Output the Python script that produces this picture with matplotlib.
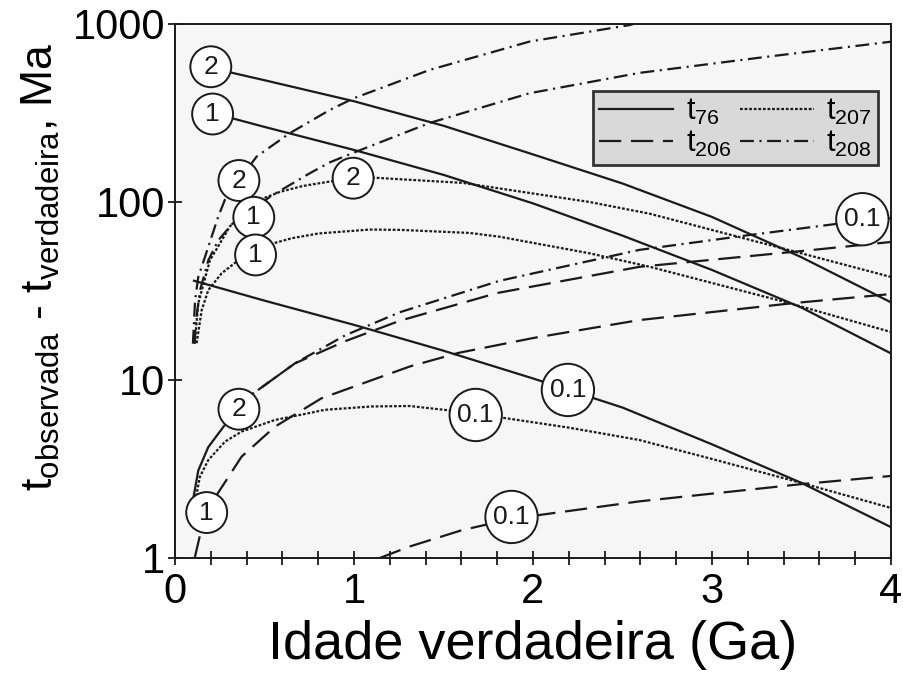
import matplotlib
matplotlib.use("Agg")
from matplotlib import pyplot as plt
from matplotlib.lines import Line2D
from matplotlib import ticker
import numpy as np

plt.rcParams['font.family'] = ['Liberation Sans', 'DejaVu Sans']
plt.rcParams['mathtext.fontset'] = 'custom'
plt.rcParams['mathtext.rm'] = 'Liberation Sans'
plt.rcParams['lines.scale_dashes'] = False

# t76 (solid), parametro 2, 1 e 0.1
t76_x_2 = [0.20, 0.30, 0.50, 1.00, 1.50, 2.00, 2.50, 3.00, 3.50, 4.00]
t76_y_2 = [565, 537, 483, 368, 268, 185, 127, 82.4, 48.9, 27.3]
t76_x_1 = [0.21, 0.31, 0.50, 1.00, 1.50, 2.00, 2.50, 3.00, 3.50, 4.00]
t76_y_1 = [315, 297, 264, 196, 142, 98.2, 64.7, 41.5, 25.5, 14.1]
t76_x_01 = [0.106, 0.50, 1.00, 1.50, 2.00, 2.50, 3.00, 3.50, 4.00]
t76_y_01 = [36.1, 27.9, 20.4, 14.6, 10.2, 7.0, 4.35, 2.64, 1.49]

# t207 (dotted)
t207_x_2 = [0.11, 0.13, 0.195, 0.307, 0.474, 0.587, 0.714, 0.88, 1.0, 1.105, 1.607, 2.315, 2.65, 3.43, 4.0]
t207_y_2 = [16, 27, 47, 73, 103, 114, 123, 131, 135, 137, 128, 100, 86, 53.7, 37.9]
t207_x_1 = [0.121, 0.149, 0.186, 0.26, 0.353, 0.45, 0.548, 0.65, 0.8, 1.088, 1.255, 1.646, 1.813, 2.315, 2.65, 3.41, 4.0]
t207_y_1 = [16.1, 24.7, 32, 39.7, 47, 53, 58.5, 62.5, 66.5, 70, 69.7, 67, 63.8, 51.5, 43.3, 27.4, 18.6]
t207_x_01 = [0.11, 0.121, 0.139, 0.186, 0.279, 0.372, 0.558, 0.744, 0.837, 1.1, 1.311, 1.56, 1.8, 2.2, 2.594, 3.0, 3.5, 4.0]
t207_y_01 = [2.1, 2.3, 2.86, 3.55, 4.5, 5.13, 5.96, 6.5, 6.8, 7.1, 7.14, 6.7, 6.2, 5.4, 4.6, 3.6, 2.64, 1.91]

# t206 (dashed)
t206_x_2 = [0.10, 0.13, 0.186, 0.279, 0.357, 0.437, 0.67, 0.95, 1.255, 1.8, 2.594, 3.5, 4.0]
t206_y_2 = [2.1, 3.1, 4.2, 5.6, 6.85, 8.4, 12.4, 16.5, 21.5, 30.8, 43.2, 53, 59.6]
t206_x_1 = [0.11, 0.14, 0.177, 0.233, 0.372, 0.558, 0.818, 1.311, 1.584, 2.0, 2.594, 3.45, 4.0]
t206_y_1 = [1.0, 1.35, 1.8, 2.26, 3.71, 5.46, 7.89, 11.9, 14.2, 17.2, 21.7, 27, 30.4]
t206_x_01 = [1.144, 1.311, 1.6, 1.88, 2.594, 3.5, 4.0]
t206_y_01 = [1.0, 1.16, 1.43, 1.66, 2.08, 2.6, 2.89]

# t208 (dash-dot)
t208_x_2 = [0.10, 0.112, 0.13, 0.167, 0.205, 0.242, 0.279, 0.357, 0.456, 0.64, 0.865, 1.0, 1.423, 1.98, 2.54, 2.7]
t208_y_2 = [16, 28, 38, 49, 64, 83, 103, 132, 180, 243, 329, 383, 552, 796, 986, 1100]
t208_x_1 = [0.11, 0.115, 0.14, 0.186, 0.242, 0.331, 0.44, 0.53, 0.753, 0.865, 1.014, 1.423, 1.98, 2.594, 3.3, 4.0]
t208_y_1 = [16, 20.8, 32, 47, 61, 77.6, 90, 107, 145, 167, 192, 278, 408, 531, 653, 795]
t208_x_01 = [0.357, 0.437, 0.67, 0.95, 1.255, 1.81, 2.594, 3.2, 3.77, 4.0]
t208_y_01 = [6.85, 8.4, 12.4, 17.8, 24.0, 36, 53.8, 65, 77, 81]

# rotulos circulados
circ_x = [0.20, 0.21, 0.357, 0.995, 0.44, 0.45, 0.357, 0.177, 2.195, 1.68, 1.88, 3.84]
circ_y = [575, 312, 132, 136, 82, 50.4, 6.85, 1.8, 8.79, 6.36, 1.70, 80]
circ_txt = ["2", "1", "2", "2", "1", "1", "2", "1", "0.1", "0.1", "0.1", "0.1"]

ls_76 = '-'
ls_207 = (0, (2.0, 1.3))
ls_206 = (0, (16, 7))
ls_208 = (0, (10, 4, 1.5, 4))
lw = 1.6
c = '#1a1a1a'

fig = plt.figure(figsize=(9.04, 6.77), dpi=100)
ax = fig.add_axes([0.1936, 0.1758, 0.7920, 0.7888])
ax.set_facecolor('#f6f6f6')

ax.plot(t76_x_2, t76_y_2, ls=ls_76, color=c, lw=lw)
ax.plot(t76_x_1, t76_y_1, ls=ls_76, color=c, lw=lw)
ax.plot(t76_x_01, t76_y_01, ls=ls_76, color=c, lw=lw)

ax.plot(t207_x_2, t207_y_2, ls=ls_207, color=c, lw=lw)
ax.plot(t207_x_1, t207_y_1, ls=ls_207, color=c, lw=lw)
ax.plot(t207_x_01, t207_y_01, ls=ls_207, color=c, lw=lw)

# trecho inicial de t206 (2) aparece continuo
ax.plot(t206_x_2[:5], t206_y_2[:5], ls='-', color=c, lw=lw)
ax.plot(t206_x_2[4:], t206_y_2[4:], ls=ls_206, color=c, lw=lw)
ax.plot(t206_x_1, t206_y_1, ls=ls_206, color=c, lw=lw)
ax.plot(t206_x_01, t206_y_01, ls=ls_206, color=c, lw=lw)

ax.plot(t208_x_2, t208_y_2, ls=ls_208, color=c, lw=lw)
ax.plot(t208_x_1, t208_y_1, ls=ls_208, color=c, lw=lw)
ax.plot(t208_x_01, t208_y_01, ls=ls_208, color=c, lw=lw)

for x, y, s in zip(circ_x, circ_y, circ_txt):
    pad = 0.3 if len(s) > 1 else 0.32
    ax.text(x, y, s, ha='center', va='center', fontsize=19, color=c, zorder=5,
            bbox=dict(boxstyle='circle,pad=%.2f' % pad, fc='white', ec=c, lw=1.4))

ax.set_yscale('log')
ax.set_xlim(0, 4)
ax.set_ylim(1, 1000)
ax.yaxis.set_major_locator(ticker.FixedLocator([1, 10, 100, 1000]))
ax.yaxis.set_major_formatter(ticker.FixedFormatter(["1", "10", "100", "1000"]))
ax.yaxis.set_minor_locator(ticker.NullLocator())
ax.xaxis.set_major_locator(ticker.MultipleLocator(1))
ax.xaxis.set_minor_locator(ticker.MultipleLocator(0.2))
ax.tick_params(axis='both', which='both', direction='inout', width=1.3, color=c)
ax.tick_params(axis='both', which='major', length=10, labelsize=30)
ax.tick_params(axis='x', which='minor', length=10)
ax.tick_params(axis='x', which='major', pad=5)
ax.tick_params(axis='y', which='major', pad=2)
for sp in ax.spines.values():
    sp.set_linewidth(1.4)
    sp.set_color(c)

ax.set_xlabel("Idade verdadeira (Ga)", fontsize=39, labelpad=6)
ax.set_ylabel(r"$\mathregular{t_{observada}}$ - $\mathregular{t_{verdadeira}}$, Ma", fontsize=32)
ax.yaxis.set_label_coords(-0.158, 0.545)

handles = [Line2D([], [], ls=ls_76, color=c, lw=lw),
           Line2D([], [], ls=ls_206, color=c, lw=lw),
           Line2D([], [], ls=ls_207, color=c, lw=lw),
           Line2D([], [], ls=ls_208, color=c, lw=lw)]
labels = [r"$\mathregular{t_{76}}$", r"$\mathregular{t_{206}}$",
          r"$\mathregular{t_{207}}$", r"$\mathregular{t_{208}}$"]
leg = ax.legend(handles, labels, ncol=2, loc='upper right', bbox_to_anchor=(0.9818, 0.8745),
                borderaxespad=0, fontsize=22, frameon=True, fancybox=False,
                facecolor='#d9d9d9', edgecolor='#333333', framealpha=1,
                handlelength=2.4, handletextpad=0.42, columnspacing=0.3,
                borderpad=0.2, labelspacing=0.05)
leg.get_frame().set_linewidth(2)

fig.savefig("out.png", dpi=100)
